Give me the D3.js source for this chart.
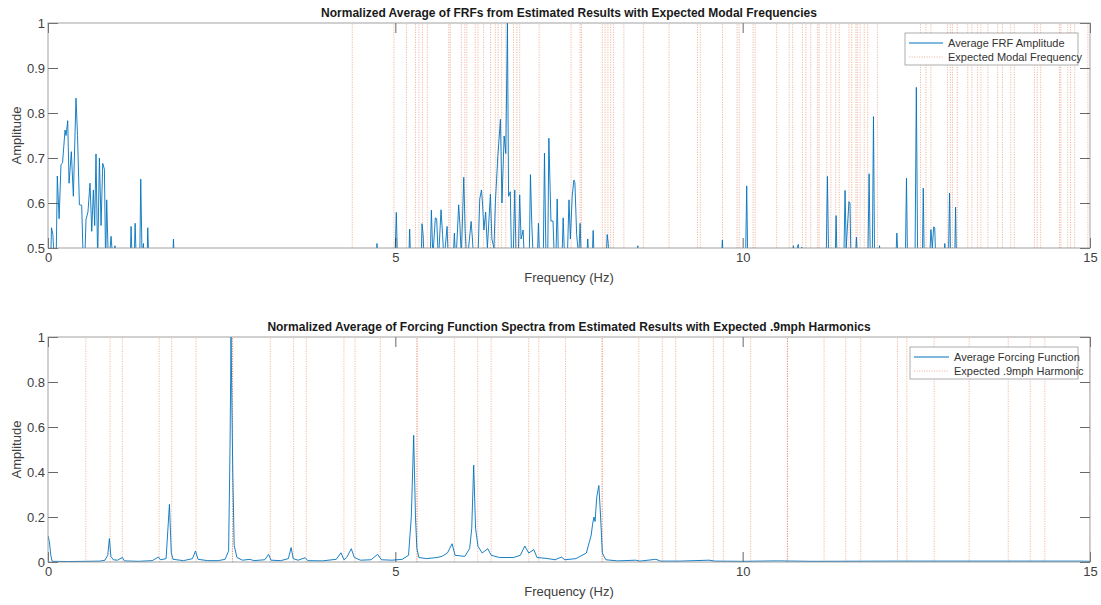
<!DOCTYPE html>
<html>
<head>
<meta charset="utf-8">
<script src="https://cdn.jsdelivr.net/npm/d3@7"></script>
<style>
  html, body { margin: 0; padding: 0; background: #ffffff; }
  svg { display: block; font-family: "Liberation Sans", Arial, Helvetica, sans-serif; }
</style>
</head>
<body>
<svg id="chart" width="1101" height="605"></svg>
<script>
// ---------------- DATA ----------------
const xTicks = [0, 5, 10, 15];
const yTicksTop = [0.5, 0.6, 0.7, 0.8, 0.9, 1];
const yTicksBottom = [0, 0.2, 0.4, 0.6, 0.8, 1];

const titleTop = "Normalized Average of FRFs from Estimated Results with Expected Modal Frequencies";
const titleBottom = "Normalized Average of Forcing Function Spectra from Estimated Results with Expected .9mph Harmonics";
const legendTop = ["Average FRF Amplitude", "Expected Modal Frequency"];
const legendBottom = ["Average Forcing Function", "Expected .9mph Harmonic"];

// Expected modal frequencies (Hz)
const modalFreqs = [4.38, 4.98, 5.16, 5.29, 5.34, 5.39, 5.46, 5.77, 5.79, 5.95, 6.00, 6.03, 6.15, 6.19,
  6.27, 6.37, 6.44, 6.48, 6.53, 6.59, 6.70, 6.75, 6.79, 7.07, 7.53, 7.66, 7.68, 7.98, 8.02, 8.06,
  8.10, 8.14, 8.29, 8.57, 8.94, 9.35, 9.39, 9.71, 9.92, 9.95, 10.15, 10.18, 10.49, 10.67, 10.72,
  10.86, 10.91, 10.98, 11.08, 11.10, 11.21, 11.27, 11.34, 11.39, 11.53, 11.57, 11.63, 11.65, 11.69,
  11.75, 11.80, 11.94, 12.56, 12.64, 12.71, 12.95, 12.99, 13.02, 13.09, 13.24, 13.30, 13.38, 13.43,
  13.53, 13.67, 13.74, 13.86, 13.91, 14.20, 14.24, 14.29, 14.56, 14.58, 14.68, 14.72, 14.78, 14.97];

// Expected .9mph harmonics (Hz)
const harmonicFreqs = [0.545, 0.893, 1.07, 1.60, 1.78, 2.13, 2.657, 2.657, 3.20, 3.535, 3.718, 4.26, 4.42,
  4.784, 5.312, 5.312, 5.85, 6.186, 6.379, 6.92, 7.065, 7.45, 7.978, 7.978, 8.506, 8.843, 9.035, 9.578,
  9.722, 10.115, 10.644, 10.644, 11.172, 11.484, 11.70, 12.229, 12.363, 12.757, 13.26, 13.823,
  14.14, 14.35, 15.0];

// Average FRF amplitude (frequency, amplitude)
const frfFreq = [0.00, 0.04, 0.05, 0.07, 0.09, 0.12, 0.134, 0.16, 0.187, 0.21, 0.245, 0.26, 0.284, 0.303,
  0.336, 0.365, 0.403, 0.425, 0.452, 0.485, 0.509, 0.535, 0.547, 0.575, 0.605, 0.63, 0.653, 0.672,
  0.691, 0.715, 0.74, 0.764, 0.788, 0.812, 0.83, 0.845, 0.869, 0.89, 0.908, 0.93, 0.965, 0.99,
  1.18, 1.196, 1.215, 1.24, 1.254, 1.275, 1.32, 1.335, 1.355, 1.374, 1.39, 1.425, 1.436, 1.455,
  1.79, 1.806, 1.825, 4.72, 4.736, 4.755, 4.99, 5.014, 5.035, 5.19, 5.206, 5.225, 5.37, 5.384, 5.40,
  5.42, 5.50, 5.519, 5.54, 5.576, 5.595, 5.62, 5.658, 5.68, 5.70, 5.745, 5.765, 5.83, 5.85, 5.87,
  5.912, 5.93, 5.95, 5.985, 6.005, 6.03, 6.091, 6.11, 6.13, 6.19, 6.215, 6.24, 6.255, 6.275, 6.30,
  6.325, 6.369, 6.39, 6.42, 6.44, 6.475, 6.513, 6.535, 6.566, 6.59, 6.614, 6.63, 6.655, 6.675, 6.70,
  6.719, 6.74, 6.77, 6.79, 6.81, 6.84, 6.86, 6.93, 6.945, 6.965, 6.99, 7.045, 7.06, 7.08, 7.13,
  7.147, 7.17, 7.195, 7.21, 7.24, 7.27, 7.29, 7.315, 7.33, 7.35, 7.40, 7.416, 7.44, 7.48, 7.50,
  7.52, 7.546, 7.57, 7.585, 7.61, 7.64, 7.66, 7.68, 7.75, 7.77, 7.79, 7.83, 7.848, 7.865, 8.03,
  8.05, 8.065, 8.08, 8.47, 8.49, 8.51, 9.69, 9.708, 9.725, 10.04, 10.058, 10.075, 10.71, 10.73,
  10.75, 10.80, 10.82, 10.85, 10.87, 11.20, 11.22, 11.24, 11.33, 11.345, 11.36, 11.455, 11.474,
  11.49, 11.53, 11.545, 11.56, 11.62, 11.638, 11.655, 11.80, 11.82, 11.84, 11.865, 11.883, 11.90,
  11.955, 11.97, 11.985, 12.20, 12.22, 12.24, 12.34, 12.358, 12.375, 12.48, 12.50, 12.52, 12.585,
  12.60, 12.615, 12.69, 12.71, 12.73, 12.75, 12.765, 12.78, 12.895, 12.91, 12.925, 12.96, 12.978,
  12.995, 13.05, 13.065, 13.08, 15.0];
const frfAmp = [0.45, 0.48, 0.545, 0.53, 0.47, 0.50, 0.66, 0.565, 0.685, 0.69, 0.762, 0.75, 0.783, 0.644,
  0.714, 0.615, 0.833, 0.75, 0.596, 0.595, 0.46, 0.50, 0.563, 0.58, 0.644, 0.537, 0.629, 0.55,
  0.709, 0.47, 0.70, 0.55, 0.688, 0.675, 0.46, 0.607, 0.47, 0.49, 0.526, 0.48, 0.505, 0.45,
  0.45, 0.548, 0.45, 0.46, 0.555, 0.45, 0.46, 0.653, 0.47, 0.51, 0.45, 0.46, 0.545, 0.45,
  0.45, 0.52, 0.45, 0.45, 0.51, 0.45, 0.45, 0.579, 0.45, 0.45, 0.542, 0.45, 0.46, 0.554, 0.53,
  0.45, 0.46, 0.584, 0.48, 0.567, 0.565, 0.47, 0.585, 0.53, 0.47, 0.548, 0.46, 0.47, 0.533, 0.46,
  0.596, 0.55, 0.48, 0.657, 0.54, 0.46, 0.559, 0.52, 0.46, 0.48, 0.609, 0.629, 0.60, 0.54, 0.58,
  0.50, 0.62, 0.52, 0.50, 0.601, 0.703, 0.786, 0.60, 0.749, 0.71, 1.0, 0.615, 0.625, 0.46, 0.50,
  0.629, 0.46, 0.48, 0.618, 0.52, 0.54, 0.46, 0.50, 0.663, 0.55, 0.46, 0.48, 0.555, 0.46, 0.48,
  0.711, 0.46, 0.50, 0.744, 0.56, 0.56, 0.47, 0.50, 0.609, 0.46, 0.48, 0.567, 0.46, 0.50, 0.607,
  0.52, 0.615, 0.651, 0.645, 0.53, 0.48, 0.555, 0.46, 0.46, 0.52, 0.46, 0.46, 0.539, 0.46, 0.46,
  0.53, 0.51, 0.46, 0.46, 0.505, 0.46, 0.46, 0.518, 0.46, 0.45, 0.638, 0.45, 0.47, 0.505,
  0.48, 0.508, 0.47, 0.502, 0.46, 0.45, 0.659, 0.45, 0.46, 0.572, 0.46, 0.46, 0.628,
  0.50, 0.603, 0.60, 0.46, 0.47, 0.524, 0.47, 0.45, 0.665, 0.45, 0.45, 0.792, 0.45,
  0.48, 0.505, 0.48, 0.46, 0.533, 0.46, 0.45, 0.655, 0.45, 0.45, 0.857, 0.45, 0.45,
  0.633, 0.45, 0.47, 0.541, 0.50, 0.547, 0.545, 0.47, 0.48, 0.51, 0.48, 0.45, 0.622,
  0.45, 0.45, 0.591, 0.45, 0.45];

// Average forcing function (frequency, amplitude)
const ffFreq = [0.000, 0.02, 0.04, 0.06, 0.3, 0.54, 0.75, 0.82, 0.86, 0.884, 0.905, 0.94, 1.00, 1.071,
  1.10, 1.3, 1.50, 1.59, 1.62, 1.70, 1.748, 1.775, 1.80, 1.95, 2.08, 2.123, 2.16, 2.3, 2.45, 2.55,
  2.60, 2.62, 2.635, 2.66, 2.68, 2.72, 2.80, 2.91, 2.96, 3.12, 3.175, 3.21, 3.35, 3.46, 3.50, 3.53,
  3.60, 3.703, 3.74, 3.95, 4.15, 4.217, 4.26, 4.30, 4.366, 4.41, 4.50, 4.65, 4.745, 4.80, 4.95,
  5.10, 5.19, 5.23, 5.264, 5.29, 5.31, 5.34, 5.45, 5.60, 5.67, 5.75, 5.817, 5.86, 6.00, 6.07, 6.10,
  6.128, 6.155, 6.19, 6.25, 6.33, 6.38, 6.50, 6.70, 6.80, 6.864, 6.92, 6.993, 7.04, 7.20, 7.30,
  7.39, 7.44, 7.60, 7.75, 7.82, 7.84, 7.86, 7.875, 7.90, 7.93, 7.955, 7.98, 8.03, 8.20, 8.46, 8.52,
  8.75, 8.82, 9.10, 9.515, 9.60, 10.0, 10.5, 11.0, 12.23, 13.14, 14.03, 14.84, 15.0];
const ffAmp = [0.116, 0.09, 0.03, 0.003, 0.002, 0.003, 0.004, 0.008, 0.03, 0.104, 0.025, 0.01, 0.008, 0.02,
  0.005, 0.003, 0.006, 0.022, 0.01, 0.015, 0.256, 0.04, 0.012, 0.006, 0.015, 0.049, 0.012, 0.006, 0.006, 0.012,
  0.05, 0.5, 1.0, 0.4, 0.074, 0.02, 0.008, 0.012, 0.006, 0.01, 0.034, 0.008, 0.006, 0.015, 0.064, 0.015,
  0.008, 0.019, 0.006, 0.005, 0.012, 0.041, 0.01, 0.02, 0.059, 0.02, 0.008, 0.01, 0.034, 0.01, 0.008,
  0.012, 0.03, 0.2, 0.563, 0.2, 0.06, 0.02, 0.015, 0.02, 0.025, 0.04, 0.081, 0.03, 0.025, 0.06, 0.15,
  0.43, 0.15, 0.07, 0.04, 0.059, 0.03, 0.02, 0.02, 0.03, 0.071, 0.04, 0.055, 0.02, 0.015, 0.01,
  0.022, 0.01, 0.015, 0.04, 0.12, 0.17, 0.2, 0.18, 0.29, 0.34, 0.2, 0.04, 0.01, 0.005, 0.008, 0.004,
  0.012, 0.004, 0.004, 0.008, 0.004, 0.003, 0.005, 0.003, 0.004, 0.004, 0.004, 0.004, 0.003];

// ---------------- DRAW ----------------
const svg = d3.select("#chart");
const blue = "#0072BD";
const orange = "#D95319";
const axisColor = "#262626";

function panel(opts) {
  const { top, bottom, yDomain, yTicks, freqs, amps, lines, title, legend, legendBox, id } = opts;
  const x = d3.scaleLinear().domain([0, 15]).range([48, 1090]);
  const y = d3.scaleLinear().domain(yDomain).range([bottom, top]);
  const g = svg.append("g");

  g.append("clipPath").attr("id", id).append("rect")
    .attr("x", x(0)).attr("y", y(yDomain[1])).attr("width", x(15) - x(0)).attr("height", y(yDomain[0]) - y(yDomain[1]));

  // expected frequency lines
  g.append("g").attr("clip-path", `url(#${id})`).selectAll("line").data(lines).join("line")
    .attr("x1", d => x(d)).attr("x2", d => x(d))
    .attr("y1", y(yDomain[0])).attr("y2", y(yDomain[1]))
    .attr("stroke", orange).attr("stroke-opacity", 0.5).attr("stroke-width", 0.8)
    .attr("stroke-dasharray", "1.2,1.3");

  // data line
  const pts = freqs.map((f, i) => [f, amps[i]]);
  g.append("path").attr("clip-path", `url(#${id})`)
    .datum(pts)
    .attr("fill", "none").attr("stroke", blue).attr("stroke-width", 0.9)
    .attr("stroke-linejoin", "round")
    .attr("d", d3.line().x(d => x(d[0])).y(d => y(d[1])));

  // axes (MATLAB-like box with inward ticks)
  const fmt = d => String(d);
  const axB = g.append("g").attr("transform", `translate(0,${bottom})`)
    .call(d3.axisBottom(x).tickValues(xTicks).tickFormat(fmt).tickSizeInner(-10).tickSizeOuter(0).tickPadding(5));
  const axT = g.append("g").attr("transform", `translate(0,${top})`)
    .call(d3.axisTop(x).tickValues(xTicks).tickFormat("").tickSizeInner(-10).tickSizeOuter(0));
  const axL = g.append("g").attr("transform", `translate(48,0)`)
    .call(d3.axisLeft(y).tickValues(yTicks).tickFormat(fmt).tickSizeInner(-10).tickSizeOuter(0).tickPadding(3));
  const axR = g.append("g").attr("transform", `translate(1090,0)`)
    .call(d3.axisRight(y).tickValues(yTicks).tickFormat("").tickSizeInner(-10).tickSizeOuter(0));
  [axB, axT, axL, axR].forEach(a => {
    a.select(".domain").remove();
    a.selectAll("line").attr("stroke", axisColor).attr("stroke-width", 0.7);
    a.selectAll("text").attr("fill", "#404040").style("font-size", "13px")
      .style("font-family", "'Liberation Sans', Arial, sans-serif");
  });
  g.append("rect").attr("x", 48).attr("y", top).attr("width", 1090 - 48).attr("height", bottom - top)
    .attr("fill", "none").attr("stroke", "#8a8a8a").attr("stroke-width", 0.8);

  // title
  g.append("text").attr("x", (48 + 1090) / 2).attr("y", top - 6).attr("text-anchor", "middle")
    .attr("fill", "#1a1a1a").style("font-weight", "bold").style("font-size", "12px").text(title);
  // x label
  g.append("text").attr("x", (48 + 1090) / 2).attr("y", bottom + 34).attr("text-anchor", "middle")
    .attr("fill", "#404040").style("font-size", "13px").text("Frequency (Hz)");
  // y label
  g.append("text").attr("transform", `translate(21,${(top + bottom) / 2}) rotate(-90)`)
    .attr("text-anchor", "middle").attr("fill", "#404040").style("font-size", "13px").text("Amplitude");

  // legend
  const lg = g.append("g");
  lg.append("rect").attr("x", legendBox.x).attr("y", legendBox.y).attr("width", legendBox.w).attr("height", legendBox.h)
    .attr("fill", "#ffffff").attr("stroke", "#9a9a9a").attr("stroke-width", 0.8);
  const rowY = [legendBox.y + 10, legendBox.y + 24];
  lg.append("line").attr("x1", legendBox.x + 4).attr("x2", legendBox.x + legendBox.lineW)
    .attr("y1", rowY[0]).attr("y2", rowY[0]).attr("stroke", blue).attr("stroke-width", 1);
  lg.append("line").attr("x1", legendBox.x + 4).attr("x2", legendBox.x + legendBox.lineW)
    .attr("y1", rowY[1]).attr("y2", rowY[1]).attr("stroke", orange).attr("stroke-opacity", 0.5)
    .attr("stroke-width", 0.8).attr("stroke-dasharray", "1.2,1.3");
  legend.forEach((t, i) => {
    lg.append("text").attr("x", legendBox.x + legendBox.lineW + 5).attr("y", rowY[i] + 4)
      .attr("fill", "#333").style("font-size", "11px").text(t);
  });
}

panel({
  id: "clipTop", top: 23, bottom: 248, yDomain: [0.5, 1], yTicks: yTicksTop,
  freqs: frfFreq, amps: frfAmp, lines: modalFreqs, title: titleTop, legend: legendTop,
  legendBox: { x: 905, y: 33, w: 173, h: 32, lineW: 38 }
});
panel({
  id: "clipBottom", top: 337, bottom: 562, yDomain: [0, 1], yTicks: yTicksBottom,
  freqs: ffFreq, amps: ffAmp, lines: harmonicFreqs, title: titleBottom, legend: legendBottom,
  legendBox: { x: 910, y: 347, w: 168, h: 32, lineW: 39 }
});
</script>
</body>
</html>
